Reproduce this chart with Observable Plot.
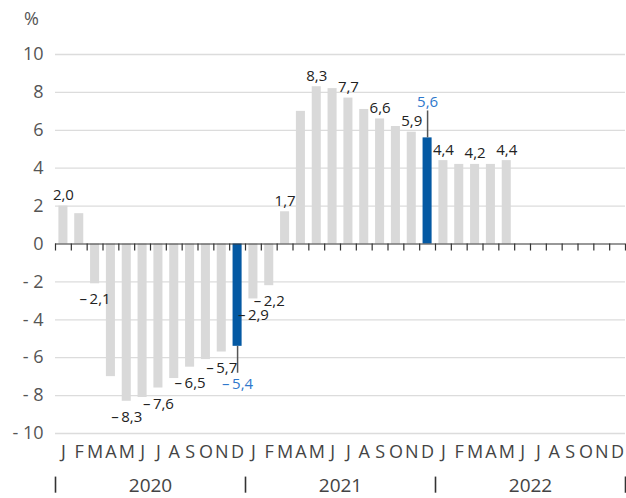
<!DOCTYPE html>
<html><head><meta charset="utf-8">
<script src="https://cdn.jsdelivr.net/npm/d3@7"></script>
<script src="https://cdn.jsdelivr.net/npm/@observablehq/plot@0.6"></script>
<style>body{margin:0;background:#fff;font-family:"Open Sans",sans-serif}</style>
</head><body><div id="chart"></div>
<script>
const monthLetters = ["J","F","M","A","M","J","J","A","S","O","N","D"];
const years = [2020, 2021, 2022];
const values = [2.0, 1.6, -2.1, -7.0, -8.3, -8.1, -7.6, -7.1, -6.5, -6.1, -5.7, -5.4,
                -2.9, -2.2, 1.7, 7.0, 8.3, 8.2, 7.7, 7.1, 6.6, 6.2, 5.9, 5.6,
                4.4, 4.2, 4.2, 4.2, 4.4];
const labeled = [0, 2, 4, 6, 8, 10, 12, 13, 14, 16, 18, 20, 22, 24, 26, 28];
const highlighted = [11, 23];
const yTicks = [-10, -8, -6, -4, -2, 0, 2, 4, 6, 8, 10];

const nMonths = years.length * 12;
const leader = 1.42;
const data = values.map((v, i) => ({i, v, hi: highlighted.includes(i), lab: labeled.includes(i)}));
const fmt = v => (v < 0 ? "–\u2009" : "") + Math.abs(v).toFixed(1).replace(".", ",");
const fmtTick = d => (d < 0 ? "- " : "") + Math.abs(d);
const grey = "#d9d9d9", blue = "#0459a3", blueText = "#2f78cc";

const plot = Plot.plot({
  width: 626, height: 498,
  marginLeft: 55, marginRight: 1, marginTop: 54, marginBottom: 65,
  style: {fontFamily: "'Open Sans', sans-serif", fontSize: "15px", background: "#fff", overflow: "visible"},
  x: {type: "linear", domain: [0, nMonths], axis: null},
  y: {domain: [-10, 10], axis: null},
  marks: [
    Plot.ruleY(yTicks.filter(d => d !== 0), {y: d => d, stroke: "#dcdcdc", strokeWidth: 1.3}),
    Plot.text(yTicks, {x: 0, y: d => d, text: fmtTick, textAnchor: "end", dx: -12, fontSize: 18, fill: "#555", lineAnchor: "middle"}),
    Plot.text(["%"], {frameAnchor: "top-left", text: d => d, dx: -24, dy: -35, fontSize: 18, fill: "#555", textAnchor: "middle", lineAnchor: "middle"}),
    Plot.rectY(data, {x1: d => d.i, x2: d => d.i + 1, y1: 0, y2: d => d.v, fill: d => d.hi ? blue : grey, insetLeft: 3.4, insetRight: 3.4}),
    Plot.ruleY([0], {stroke: "#333", strokeWidth: 1.2}),
    Plot.ruleX(d3.range(nMonths + 1), {x: d => d, y1: 0, y2: -0.37, stroke: "#333", strokeWidth: 1.2}),
    // leader lines for highlighted bars
    Plot.ruleX(data.filter(d => d.hi), {x: d => d.i + 0.5, y1: d => d.v, y2: d => d.v + Math.sign(d.v) * leader, stroke: "#555", strokeWidth: 1.5}),
    // value labels
    Plot.text(data.filter(d => d.lab && d.v > 0), {x: d => d.i + 0.5, y: d => d.v, text: d => fmt(d.v), lineAnchor: "bottom", dy: -6, fill: "#222", fontSize: 15}),
    Plot.text(data.filter(d => d.lab && d.v < 0), {x: d => d.i + 0.5, y: d => d.v, text: d => fmt(d.v), lineAnchor: "top", dy: 10, fill: "#222", fontSize: 15}),
    Plot.text(data.filter(d => d.hi && d.v > 0), {x: d => d.i + 0.5, y: d => d.v + leader, text: d => fmt(d.v), lineAnchor: "bottom", dy: -4, fill: blueText, fontSize: 15}),
    Plot.text(data.filter(d => d.hi && d.v < 0), {x: d => d.i + 0.5, y: d => d.v - leader, text: d => fmt(d.v), lineAnchor: "top", dy: 5, fill: blueText, fontSize: 15}),
    // month letters
    Plot.text(d3.range(nMonths), {x: d => d + 0.5, y: -10, text: d => monthLetters[d % 12], dy: 19, lineAnchor: "middle", fontSize: 18, fill: "#444"}),
    // year separators and labels
    Plot.ruleX(d3.range(years.length + 1), {x: d => d * 12, y1: -12.3, y2: -13.15, stroke: "#333", strokeWidth: 1.6}),
    Plot.text(years, {x: (d, k) => k * 12 + 6, y: -10, text: d => String(d), dy: 52, lineAnchor: "middle", fontSize: 19, fill: "#444"})
  ]
});
document.getElementById("chart").append(plot);
</script>
</body></html>
